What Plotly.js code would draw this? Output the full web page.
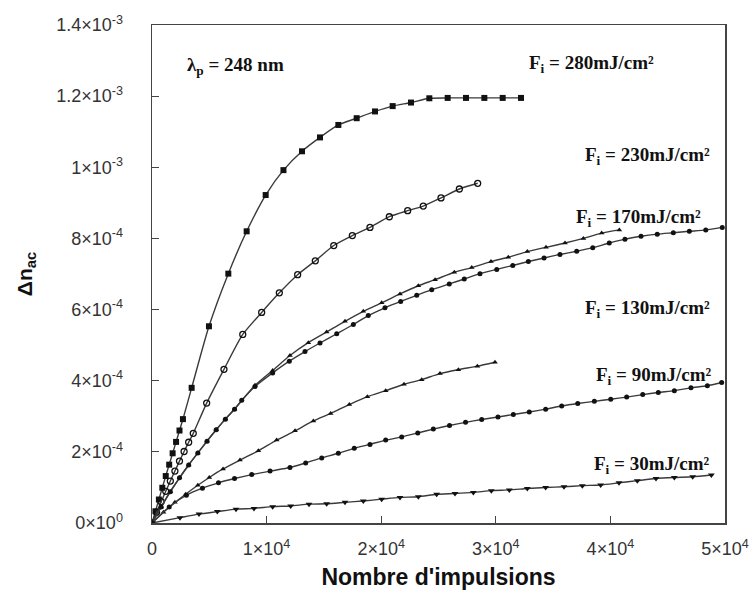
<!DOCTYPE html>
<html><head><meta charset="utf-8">
<script src="https://cdn.plot.ly/plotly-3.0.1.min.js"></script>
<style>body{margin:0;background:#fff}</style>
</head><body><div id="chart" style="width:751px;height:593px"></div>
<script>
// values of Δn in units of 1e-4
const SCALE = 1e-4;
const x280 = [0, 300, 600, 900, 1200, 1500, 1800, 2100, 2400, 2700, 3460, 4970, 6660, 8260, 9920, 11470, 13090, 14660, 16260, 17860, 19460, 21000, 22600, 24200, 25800, 27400, 29000, 30600, 32200];
const y280 = [0, 0.33, 0.66, 0.99, 1.32, 1.64, 1.96, 2.28, 2.60, 2.92, 3.80, 5.53, 7.01, 8.20, 9.22, 9.92, 10.45, 10.84, 11.19, 11.38, 11.57, 11.72, 11.82, 11.94, 11.95, 11.95, 11.95, 11.95, 11.95];

const x230 = [0, 400, 800, 1200, 1600, 2000, 2400, 2800, 3200, 3600, 4770, 6280, 7920, 9570, 11110, 12710, 14250, 15860, 17480, 19020, 20710, 22310, 23670, 25220, 26820, 28420];
const y230 = [0, 0.30, 0.60, 0.89, 1.18, 1.46, 1.74, 2.01, 2.27, 2.52, 3.37, 4.32, 5.30, 5.92, 6.47, 6.98, 7.37, 7.80, 8.08, 8.31, 8.61, 8.78, 8.91, 9.14, 9.39, 9.55];

const x170 = [0, 800, 1600, 2400, 3200, 4000, 4800, 5600, 6400, 7200, 8990, 10530, 12040, 13640, 15240, 16840, 18440, 20040, 21640, 23240, 24700, 26380, 27900, 29580, 31090, 32750, 34380, 36040, 37640, 39240, 40780];
const y170 = [0, 0.45, 0.88, 1.27, 1.63, 1.97, 2.30, 2.62, 2.92, 3.20, 3.87, 4.29, 4.71, 5.07, 5.37, 5.67, 5.95, 6.19, 6.44, 6.67, 6.84, 7.05, 7.18, 7.35, 7.47, 7.63, 7.75, 7.87, 8.00, 8.15, 8.24];

const x170b = [0, 800, 1600, 2400, 3200, 4000, 4800, 5600, 6400, 7200, 7830, 8990, 10530, 11980, 13350, 14660, 16120, 17570, 18870, 20330, 21700, 23100, 24410, 25940, 27250, 28620, 30080, 31480, 32840, 34210, 35600, 37060, 38460, 39900, 41270, 42670, 44090, 45490, 46890, 48320, 49760];
const y170b = [0, 0.45, 0.88, 1.27, 1.63, 1.97, 2.30, 2.62, 2.92, 3.20, 3.45, 3.84, 4.22, 4.55, 4.82, 5.06, 5.32, 5.58, 5.83, 6.05, 6.23, 6.40, 6.56, 6.72, 6.86, 7.01, 7.13, 7.24, 7.35, 7.45, 7.55, 7.64, 7.74, 7.87, 7.98, 8.06, 8.12, 8.16, 8.20, 8.24, 8.31];

const x130 = [0, 1000, 2000, 2940, 4000, 5000, 6200, 7680, 9280, 10880, 12480, 14080, 15590, 17220, 18790, 20390, 21990, 23530, 25130, 26730, 28390, 29930];
const y130 = [0, 0.30, 0.58, 0.81, 1.06, 1.28, 1.52, 1.77, 2.03, 2.33, 2.59, 2.87, 3.08, 3.33, 3.55, 3.72, 3.90, 4.03, 4.20, 4.31, 4.41, 4.52];

const x90 = [0, 1500, 3000, 4400, 5800, 7200, 8700, 10300, 12040, 13410, 14810, 16260, 17650, 19020, 20390, 21790, 23190, 24550, 25960, 27360, 28770, 30190, 31530, 32920, 34350, 35750, 37150, 38600, 40030, 41420, 42820, 44180, 45580, 47030, 48460, 49710];
const y90 = [0, 0.45, 0.78, 0.98, 1.13, 1.25, 1.36, 1.46, 1.56, 1.69, 1.83, 1.96, 2.10, 2.21, 2.33, 2.42, 2.53, 2.64, 2.74, 2.83, 2.91, 2.98, 3.05, 3.12, 3.20, 3.29, 3.36, 3.42, 3.48, 3.54, 3.61, 3.67, 3.72, 3.80, 3.86, 3.95];

const x30 = [0, 2440, 4100, 5700, 7330, 8900, 10530, 12100, 13700, 15240, 16840, 18440, 20040, 21640, 23240, 24840, 26440, 28040, 29610, 31180, 32750, 34350, 35950, 37550, 39150, 40750, 42350, 43980, 45580, 47180, 48810];
const y30 = [0, 0.15, 0.25, 0.32, 0.39, 0.41, 0.46, 0.48, 0.53, 0.54, 0.58, 0.62, 0.67, 0.72, 0.74, 0.81, 0.83, 0.86, 0.91, 0.93, 0.97, 1.00, 1.02, 1.05, 1.07, 1.13, 1.19, 1.25, 1.28, 1.30, 1.35];

const xTickVals = [0, 10000, 20000, 30000, 40000, 50000];
const xTickText = ['0', '1×10<sup>4</sup>', '2×10<sup>4</sup>', '3×10<sup>4</sup>', '4×10<sup>4</sup>', '5×10<sup>4</sup>'];
const yTickVals = [0, 2e-4, 4e-4, 6e-4, 8e-4, 1e-3, 1.2e-3, 1.4e-3];
const yTickText = ['0×10<sup>0</sup>', '2×10<sup>-4</sup>', '4×10<sup>-4</sup>', '6×10<sup>-4</sup>', '8×10<sup>-4</sup>', '1×10<sup>-3</sup>', '1.2×10<sup>-3</sup>', '1.4×10<sup>-3</sup>'];

const labels = ['F<sub>i</sub> = 280mJ/cm²', 'F<sub>i</sub> = 230mJ/cm²', 'F<sub>i</sub> = 170mJ/cm²', 'F<sub>i</sub> = 130mJ/cm²', 'F<sub>i</sub> = 90mJ/cm²', 'F<sub>i</sub> = 30mJ/cm²'];
const labelX = [32700, 37600, 36800, 37600, 38600, 38400];
const labelY = [12.9, 10.32, 8.58, 6.03, 4.12, 1.63];

const lineCol = '#3a3a3a', mk = '#111';
function tr(x, y, sym, size, name) {
  return {
    x: x, y: y.map(v => v * SCALE), type: 'scatter', mode: 'lines+markers', name: name,
    line: {color: lineCol, width: 1.4, shape: 'spline', smoothing: 0.6},
    marker: {symbol: sym, size: size, color: mk, line: {color: mk, width: sym.indexOf('open') >= 0 ? 1.3 : 0}}
  };
}
const data = [
  tr(x280, y280, 'square', 6, '280'),
  tr(x230, y230, 'circle-open', 6, '230'),
  tr(x170, y170, 'triangle-up', 5, '170a'),
  tr(x170b, y170b, 'circle', 5, '170b'),
  tr(x130, y130, 'triangle-up', 5, '130'),
  tr(x90, y90, 'circle', 5, '90'),
  tr(x30, y30, 'triangle-down', 6, '30')
];

const serif = 'Liberation Serif, Times New Roman, serif';
const annotations = labels.map((t, i) => ({
  x: labelX[i], y: labelY[i] * SCALE, xref: 'x', yref: 'y', xanchor: 'left', yanchor: 'middle',
  text: '<b>' + t + '</b>', showarrow: false, font: {family: serif, size: 19, color: '#111'}
}));
annotations.push({x: 2900, y: 12.85 * SCALE, xref: 'x', yref: 'y', xanchor: 'left', yanchor: 'middle',
  text: '<b>λ<sub>p</sub> = 248 nm</b>', showarrow: false, font: {family: serif, size: 19, color: '#111'}});

const sans = 'Liberation Sans, Arial, sans-serif';
const layout = {
  width: 751, height: 593,
  margin: {l: 152, r: 26, t: 25, b: 70},
  paper_bgcolor: '#fff', plot_bgcolor: '#fff',
  showlegend: false,
  xaxis: {
    range: [0, 50000], tickvals: xTickVals, ticktext: xTickText,
    ticks: 'inside', ticklen: 7, tickcolor: '#444', showline: true, linecolor: '#444', linewidth: 1.5, mirror: true,
    showgrid: false, zeroline: false, tickfont: {family: sans, size: 18, color: '#333'},
    ticklabelstandoff: 9,
    title: {text: "<b>Nombre d'impulsions</b>", font: {family: sans, size: 23, color: '#111'}, standoff: 11}
  },
  yaxis: {
    range: [0, 1.4e-3], tickvals: yTickVals, ticktext: yTickText,
    ticks: 'inside', ticklen: 7, tickcolor: '#444', showline: true, linecolor: '#444', linewidth: 1.5, mirror: true,
    showgrid: false, zeroline: false, tickfont: {family: sans, size: 18, color: '#333'},
    ticklabelstandoff: 24,
    title: {text: '<b>Δn<sub>ac</sub></b>', font: {family: sans, size: 21, color: '#111'}, standoff: 18}
  },
  annotations: annotations
};
Plotly.newPlot('chart', data, layout, {displayModeBar: false, staticPlot: true});
</script></body></html>
